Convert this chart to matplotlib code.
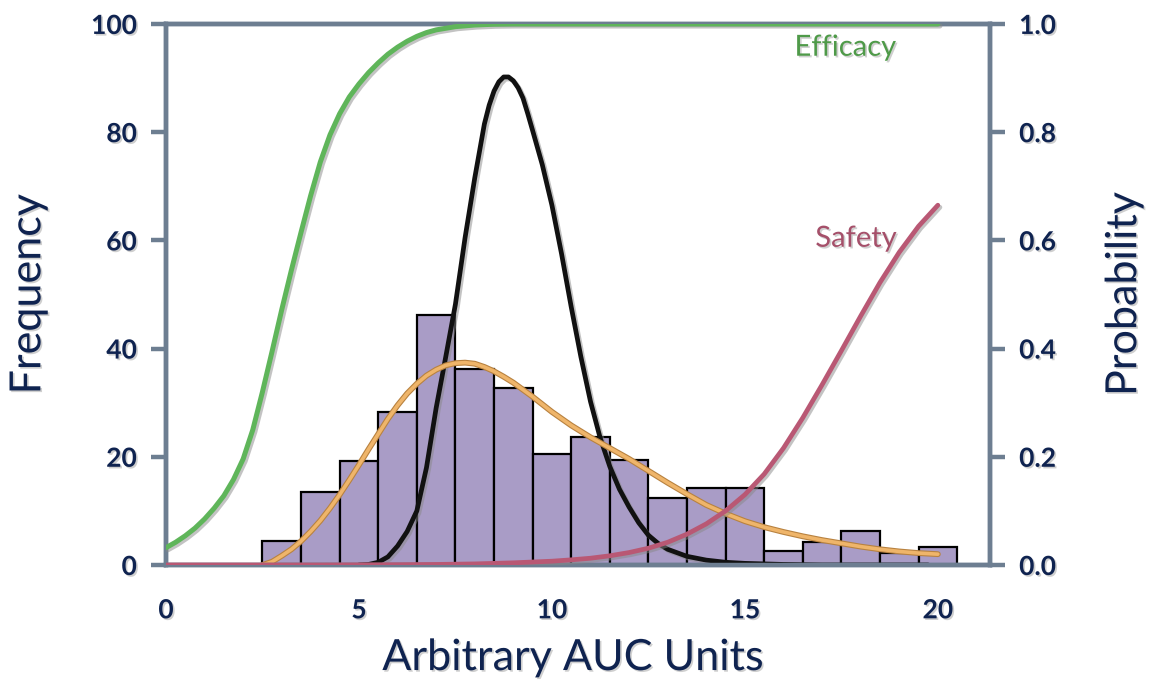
import numpy as np
import matplotlib
matplotlib.use("Agg")
import matplotlib.pyplot as plt
import matplotlib.patheffects as pe

# ---------------- data ----------------
bin_centers = [3, 4, 5, 6, 7, 8, 9, 10, 11, 12, 13, 14, 15, 16, 17, 18, 19, 20]
bin_counts = [4.5, 13.4, 19.3, 28.2, 46.2, 36.2, 32.7, 20.5, 23.7, 19.4, 12.4,
              14.3, 14.3, 2.5, 4.3, 6.3, 2.2, 3.4]

black_x = [5.0, 5.25, 5.5, 5.75, 6.0, 6.25, 6.5, 6.75, 7.0, 7.25, 7.5, 7.75, 8.0,
           8.25, 8.375, 8.5, 8.625, 8.75, 8.875, 9.0, 9.125, 9.25, 9.375, 9.5,
           9.75, 10.0, 10.25, 10.5, 10.75, 11.0, 11.25, 11.5, 11.75, 12.0, 12.25,
           12.5, 12.75, 13.0, 13.5, 14.0, 14.5, 15.0, 16.0, 17.0, 19.75]
black_y = [0.0, 0.1, 0.5, 1.5, 3.5, 6.2, 10.0, 18.0, 29.0, 38.5, 48.2, 60.5, 71.5,
           81.5, 85.0, 87.6, 89.3, 90.2, 90.2, 89.5, 88.2, 86.3, 83.4, 80.3,
           74.0, 66.5, 57.5, 47.7, 38.5, 30.2, 23.5, 18.2, 14.0, 10.7, 7.8,
           5.5, 4.0, 2.9, 1.6, 0.9, 0.5, 0.3, 0.1, 0.0, 0.0]

orange_x = [2.5, 2.75, 3.0, 3.25, 3.5, 3.75, 4.0, 4.25, 4.5, 4.75, 5.0, 5.25, 5.5,
            5.75, 6.0, 6.25, 6.5, 6.75, 7.0, 7.25, 7.5, 7.75, 8.0, 8.25, 8.5,
            8.75, 9.0, 9.5, 10.0, 10.5, 11.0, 11.5, 12.0, 12.5, 13.0, 13.5, 14.0,
            14.5, 15.0, 15.5, 16.0, 16.5, 17.0, 17.5, 18.0, 18.5, 19.0, 19.5, 20.0]
orange_y = [0.0, 0.6, 1.7, 2.9, 4.4, 6.2, 8.2, 10.5, 13.0, 15.7, 18.5, 21.4, 24.2,
            27.0, 29.5, 31.7, 33.5, 35.0, 36.1, 36.9, 37.3, 37.4, 37.2, 36.6, 35.8,
            34.8, 33.7, 31.1, 28.3, 25.8, 23.6, 21.6, 19.6, 17.4, 15.2, 13.1, 11.1,
            9.5, 8.1, 7.0, 6.1, 5.3, 4.6, 4.0, 3.4, 2.9, 2.5, 2.2, 2.0]

efficacy_x = [0.0, 0.25, 0.5, 0.75, 1.0, 1.25, 1.5, 1.75, 2.0, 2.25, 2.5, 2.75,
              3.0, 3.25, 3.5, 3.75, 4.0, 4.25, 4.5, 4.75, 5.0, 5.25, 5.5, 5.75,
              6.0, 6.25, 6.5, 6.75, 7.0, 7.5, 8.0, 8.5, 9.0, 20.0]
efficacy_p = [0.032, 0.042, 0.054, 0.068, 0.085, 0.105, 0.128, 0.158, 0.196,
              0.250, 0.320, 0.395, 0.472, 0.545, 0.615, 0.683, 0.745, 0.795,
              0.834, 0.865, 0.889, 0.910, 0.928, 0.944, 0.957, 0.968, 0.977,
              0.984, 0.989, 0.995, 0.998, 0.9995, 1.0, 1.0]

safety_x = [0.0, 4.0, 6.0, 7.0, 8.0, 9.0, 10.0, 10.5, 11.0, 11.5, 12.0, 12.5,
            13.0, 13.5, 14.0, 14.5, 15.0, 15.5, 16.0, 16.5, 17.0, 17.5, 18.0,
            18.5, 19.0, 19.5, 20.0]
safety_p = [0.0, 0.0, 0.0005, 0.001, 0.002, 0.004, 0.007, 0.0095, 0.0125, 0.017,
            0.023, 0.031, 0.042, 0.057, 0.076, 0.100, 0.130, 0.168, 0.216, 0.272,
            0.333, 0.396, 0.460, 0.522, 0.578, 0.626, 0.665]

freq_ticks = [0, 20, 40, 60, 80, 100]
prob_ticks = [0.0, 0.2, 0.4, 0.6, 0.8, 1.0]
x_ticks = [0, 5, 10, 15, 20]

# ---------------- style ----------------
navy = "#0f2350"
spine_c = "#6d7e91"
font = "Lato"

fig = plt.figure(figsize=(11.55, 6.84), dpi=100)
ax = fig.add_axes([0.1437, 0.174, 0.7134, 0.791])
ax2 = ax.twinx()

shadow = [pe.SimpleLineShadow(offset=(1.5, -1.5), shadow_color="#888888", alpha=0.5), pe.Normal()]
tshadow = [pe.SimplePatchShadow(offset=(1.2, -1.2), shadow_rgbFace="#777777", alpha=0.35), pe.Normal()]

ax.bar(bin_centers, bin_counts, width=1.0, color="#a99cc6", edgecolor="black",
       linewidth=1.6, zorder=2)
ax.plot(black_x, black_y, color="#111111", lw=3.4, zorder=4,
        solid_capstyle="round", solid_joinstyle="round", path_effects=shadow)
ax.plot(orange_x, orange_y, color="#b88240", lw=4.2, zorder=5,
        solid_capstyle="round", solid_joinstyle="round")
ax.plot(orange_x, orange_y, color="#efb56a", lw=2.6, zorder=5,
        solid_capstyle="round", solid_joinstyle="round")

ax2.plot(safety_x, safety_p, color="#b95874", lw=3.4, zorder=6,
         solid_capstyle="round", solid_joinstyle="round", path_effects=shadow)
ax2.plot(efficacy_x, efficacy_p, color="#5fb55a", lw=3.6, zorder=6,
         solid_capstyle="round", solid_joinstyle="round", path_effects=shadow)

ax.set_xlim(0, 21.35)
ax.set_ylim(0, 100)
ax2.set_ylim(0, 1.0)

for a in (ax, ax2):
    for s in a.spines.values():
        s.set_color(spine_c)
        s.set_linewidth(3.2)

ax.set_xticks(x_ticks)
ax.set_xticklabels([str(t) for t in x_ticks])
ax.set_yticks(freq_ticks)
ax.set_yticklabels([str(t) for t in freq_ticks])
ax2.set_yticks(prob_ticks)
ax2.set_yticklabels(["%.1f" % t for t in prob_ticks])

ax.tick_params(axis="x", length=0, pad=24, labelsize=19, labelcolor=navy)
ax.tick_params(axis="y", direction="out", length=11, width=3.2, color=spine_c,
               pad=10, labelsize=19, labelcolor=navy)
ax2.tick_params(axis="y", direction="out", length=11, width=3.2, color=spine_c,
                pad=10, labelsize=19, labelcolor=navy)
for lab in ax.get_xticklabels() + ax.get_yticklabels() + ax2.get_yticklabels():
    lab.set_fontfamily(font)
    lab.set_fontweight("bold")
    lab.set_path_effects(tshadow)

ax.set_xlabel("Arbitrary AUC Units", fontsize=31, color=navy, family=font)
ax.set_ylabel("Frequency", fontsize=31, color=navy, family=font)
ax2.set_ylabel("Probability", fontsize=31, color=navy, family=font)
ax.xaxis.set_label_coords(0.493, -0.172)
ax.xaxis.label.set_va("center")
ax.yaxis.set_label_coords(-0.167, 0.50)
ax.yaxis.label.set_va("center")
ax2.yaxis.set_label_coords(1.163, 0.50)
ax2.yaxis.label.set_va("center")
for lab in (ax.xaxis.label, ax.yaxis.label, ax2.yaxis.label):
    lab.set_path_effects(tshadow)

ax2.text(17.6, 0.956, "Efficacy", color="#4f9a49", fontsize=21, family=font,
         ha="center", va="center", path_effects=tshadow)
ax2.text(17.88, 0.603, "Safety", color="#a5506a", fontsize=21, family=font,
         ha="center", va="center", path_effects=tshadow)

fig.savefig("out.png", dpi=100)
